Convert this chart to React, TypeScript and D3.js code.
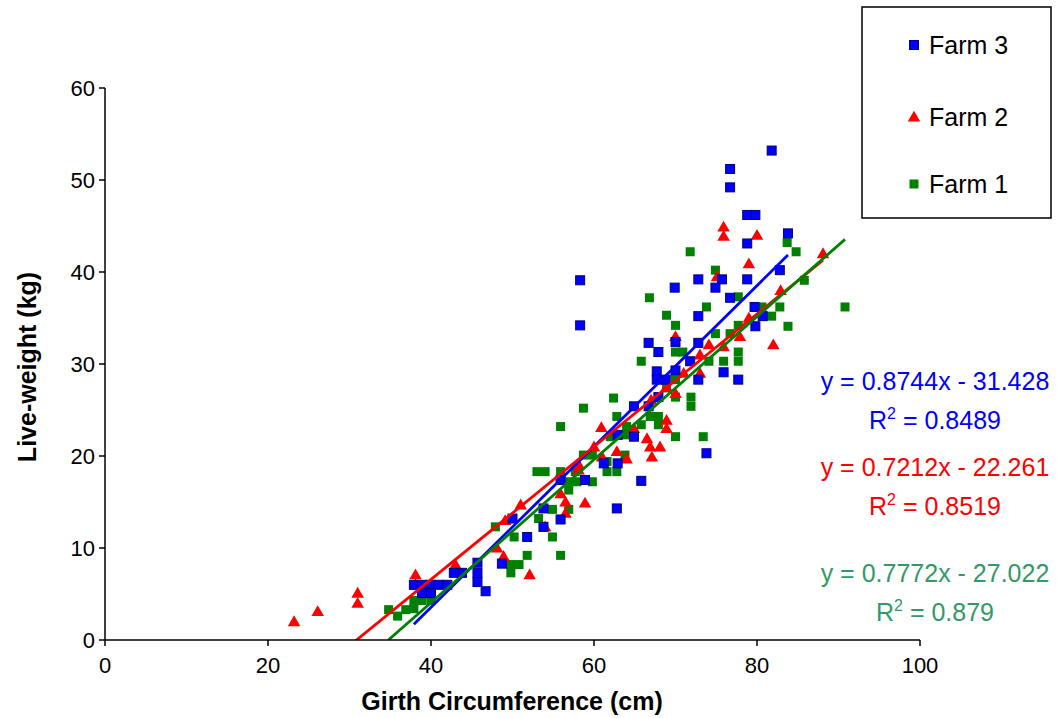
import React from "react";
import * as d3 from "d3";

// Girth (cm), Live-weight (kg)
const farm3Points: [number, number][] = [
  [81.8, 53.2], [76.7, 51.2], [76.7, 49.2], [78.8, 46.2], [79.8, 46.2], [83.8, 44.2],
  [78.8, 43.1], [82.8, 40.2], [72.8, 39.2], [75.7, 39.2], [78.8, 39.2], [74.9, 38.3],
  [69.9, 38.3], [76.7, 37.2], [79.7, 36.2], [80.7, 35.2], [72.8, 35.2], [79.8, 34.1],
  [72.8, 32.3], [58.3, 39.1], [58.3, 34.2], [66.7, 32.3], [70.0, 32.4], [67.9, 31.3],
  [71.8, 30.3], [75.9, 29.1], [77.7, 28.3], [72.8, 28.3], [67.7, 29.2], [67.7, 28.3],
  [68.8, 28.3], [70.0, 29.3], [67.9, 26.4], [64.9, 25.4], [66.7, 25.4], [64.9, 22.1],
  [62.9, 22.3], [73.8, 20.3], [61.2, 19.2], [62.9, 19.2], [65.8, 17.3], [58.9, 17.4],
  [55.9, 17.4], [62.8, 14.3], [53.8, 14.3], [50.0, 13.2], [55.9, 13.1], [53.8, 12.3],
  [51.8, 11.2], [48.7, 8.3], [45.7, 8.4], [45.7, 7.3], [45.7, 6.3], [46.7, 5.3],
  [43.8, 7.3], [42.8, 7.3], [37.9, 6.0], [38.9, 6.0], [40.0, 6.0], [40.9, 6.0],
  [42.0, 6.0], [38.9, 5.1], [40.0, 5.1],
];

const farm2Points: [number, number][] = [
  [23.2, 2.0], [26.1, 3.1], [31.0, 5.1], [31.0, 4.0], [38.1, 7.1], [38.1, 6.0],
  [43.0, 8.2], [48.1, 10.0], [48.9, 9.1], [49.1, 13.0], [51.0, 14.7], [52.1, 7.1],
  [54.0, 12.3], [56.5, 13.8], [55.9, 15.9], [56.5, 15.0], [58.9, 14.9], [58.1, 18.5],
  [58.1, 19.1], [60.0, 21.0], [60.9, 23.1], [61.0, 19.9], [62.8, 20.5], [64.0, 19.7],
  [64.9, 23.0], [66.5, 21.9], [66.9, 21.0], [68.1, 21.0], [67.1, 19.9], [68.9, 23.9],
  [68.9, 23.0], [67.0, 26.1], [68.9, 27.5], [70.0, 26.8], [71.0, 29.0], [73.0, 29.0],
  [73.0, 31.0], [74.1, 32.1], [75.9, 31.9], [77.9, 33.0], [79.0, 35.0], [70.0, 33.0],
  [75.1, 39.5], [79.0, 40.9], [75.9, 44.9], [75.9, 43.9], [80.0, 44.0], [82.9, 38.0],
  [82.0, 32.1], [88.1, 42.0],
];

const farm1Points: [number, number][] = [
  [34.8, 3.3], [35.9, 2.6], [36.9, 3.3], [37.9, 4.3], [38.9, 4.3], [40.0, 4.3],
  [37.9, 3.4], [47.9, 12.3], [50.2, 11.2], [51.8, 9.2], [49.8, 8.2], [49.8, 7.3],
  [50.8, 8.2], [53.2, 13.2], [54.9, 14.2], [56.9, 14.2], [54.9, 11.2], [55.9, 9.2],
  [53.0, 18.3], [54.0, 18.3], [55.9, 18.3], [57.7, 18.3], [56.9, 17.2], [57.9, 17.2],
  [59.8, 17.2], [56.9, 16.3], [58.7, 20.1], [59.8, 20.1], [61.6, 19.4], [61.6, 18.3],
  [62.8, 18.3], [63.8, 20.1], [55.9, 23.2], [58.7, 25.2], [62.8, 24.3], [64.0, 23.2],
  [62.0, 22.1], [63.8, 22.3], [62.4, 26.3], [65.8, 23.4], [66.9, 24.3], [67.9, 24.3],
  [67.9, 23.4], [66.8, 37.2], [68.9, 35.3], [70.0, 34.2], [70.0, 31.3], [70.9, 31.3],
  [73.8, 36.2], [65.8, 30.3], [70.0, 28.3], [68.9, 27.4], [70.0, 26.4], [71.9, 26.4],
  [71.9, 25.4], [70.0, 22.1], [73.4, 22.1], [74.9, 40.2], [77.7, 37.3], [74.9, 33.3],
  [76.7, 33.3], [77.7, 34.2], [75.9, 30.3], [77.7, 31.3], [77.7, 30.3], [74.1, 30.3],
  [71.8, 42.2], [83.7, 43.2], [84.8, 42.2], [82.8, 36.2], [81.8, 35.2], [80.6, 36.2],
  [85.8, 39.1], [90.8, 36.2], [83.8, 34.1],
];

const seriesNames = ["Farm 3", "Farm 2", "Farm 1"];
const trendSlopes = [0.8744, 0.7212, 0.7772];
const trendIntercepts = [-31.428, -22.261, -27.022];
const equationTexts = ["y = 0.8744x - 31.428", "y = 0.7212x - 22.261", "y = 0.7772x - 27.022"];
const r2Texts = ["0.8489", "0.8519", "0.879"];

const xTicks = [0, 20, 40, 60, 80, 100];
const yTicks = [0, 10, 20, 30, 40, 50, 60];

const W = 1057;
const H = 718;
const FONT = "'Liberation Sans', Arial, sans-serif";

export default function App() {
  const x = d3.scaleLinear().domain([0, 100]).range([105, 920]);
  const y = d3.scaleLinear().domain([0, 60]).range([640, 88]);

  const allSeries = [farm3Points, farm2Points, farm1Points];
  const markerColors = ["#0000FF", "#FF0000", "#008000"];
  const lineColors = ["#0000FF", "#FF0000", "#008000"];
  const textColors = ["#0000FF", "#FF0000", "#339966"];

  const tri = d3.symbol().type(d3.symbolTriangle).size(68);
  const line = d3.line<[number, number]>().x((d) => x(d[0])).y((d) => y(d[1]));

  const renderMarker = (si: number, px: number, py: number, key: string) => {
    if (si === 0)
      return (
        <rect key={key} x={px - 4.5} y={py - 4.5} width={9} height={9} fill="#0000FF" stroke="#000080" strokeWidth={1} />
      );
    if (si === 1)
      return <path key={key} d={tri() as string} transform={`translate(${px},${py + 1})`} fill="#FF0000" />;
    return <rect key={key} x={px - 4.5} y={py - 4.5} width={9} height={9} fill="#008000" />;
  };

  const eqY = [390, 476, 582];

  return (
    <svg width={W} height={H} style={{ position: "absolute", left: 0, top: 0, background: "#fff" }} fontFamily={FONT}>
      <defs>
        <clipPath id="plot">
          <rect x={105} y={88} width={815} height={552} />
        </clipPath>
      </defs>

      {/* markers */}
      {[2, 1, 0].map((si) =>
        allSeries[si].map((d, i) => renderMarker(si, x(d[0]), y(d[1]), `m${si}-${i}`))
      )}

      {/* trendlines */}
      <g clipPath="url(#plot)">
        {allSeries.map((pts, si) => {
          const [x0, x1] = d3.extent(pts, (d) => d[0]) as [number, number];
          const seg: [number, number][] = [
            [x0, trendSlopes[si] * x0 + trendIntercepts[si]],
            [x1, trendSlopes[si] * x1 + trendIntercepts[si]],
          ];
          return <path key={`t${si}`} d={line(seg) as string} stroke={lineColors[si]} strokeWidth={2.8} fill="none" />;
        })}
      </g>

      {/* axes */}
      <line x1={x(0)} x2={x(0)} y1={y(60)} y2={y(0)} stroke="#000" strokeWidth={1.5} />
      <line x1={x(0)} x2={x(100)} y1={y(0)} y2={y(0)} stroke="#000" strokeWidth={1.5} />
      {yTicks.map((t) => (
        <g key={`yt${t}`}>
          <line x1={x(0) - 6} x2={x(0)} y1={y(t)} y2={y(t)} stroke="#000" strokeWidth={1.5} />
          <text x={95} y={y(t) + 8} textAnchor="end" fontSize={22} fill="#000">
            {t}
          </text>
        </g>
      ))}
      {xTicks.map((t) => (
        <g key={`xt${t}`}>
          <line x1={x(t)} x2={x(t)} y1={y(0)} y2={y(0) + 6} stroke="#000" strokeWidth={1.5} />
          <text x={x(t)} y={673} textAnchor="middle" fontSize={22} fill="#000">
            {t}
          </text>
        </g>
      ))}

      {/* axis titles */}
      <text x={512} y={710} textAnchor="middle" fontSize={25} fontWeight="bold" fill="#000">
        Girth Circumference (cm)
      </text>
      <text
        transform={`translate(36, 367) rotate(-90)`}
        textAnchor="middle"
        fontSize={25}
        fontWeight="bold"
        fill="#000"
      >
        Live-weight (kg)
      </text>

      {/* equations */}
      {equationTexts.map((t, i) => (
        <g key={`eq${i}`} fill={textColors[i]} fontSize={25}>
          <text x={935} y={eqY[i]} textAnchor="middle">
            {t}
          </text>
          <text x={935} y={eqY[i] + 39} textAnchor="middle">
            R<tspan dy={-10} fontSize={16}>2</tspan>
            <tspan dy={10}> = {r2Texts[i]}</tspan>
          </text>
        </g>
      ))}

      {/* legend */}
      <rect x={862} y={7} width={189} height={211} fill="#fff" stroke="#000" strokeWidth={1.5} />
      {seriesNames.map((n, i) => {
        const cy = [45, 117, 184][i];
        return (
          <g key={`lg${i}`}>
            {i === 1 ? (
              <path d={tri() as string} transform={`translate(914,${cy + 1})`} fill={markerColors[i]} />
            ) : (
              <rect x={909.5} y={cy - 4.5} width={9} height={9} fill={markerColors[i]} stroke={i === 0 ? "#000080" : "none"} />
            )}
            <text x={929} y={cy + 9} fontSize={25} fill="#000">
              {n}
            </text>
          </g>
        );
      })}
    </svg>
  );
}
